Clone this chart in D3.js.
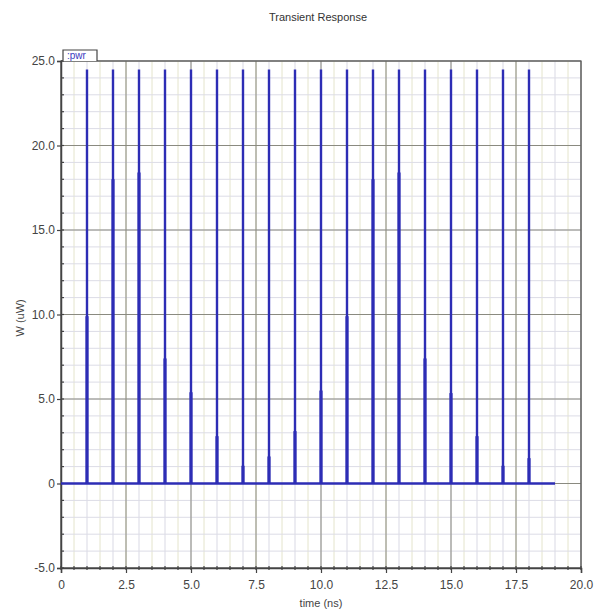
<!DOCTYPE html>
<html>
<head>
<meta charset="utf-8">
<script src="https://cdn.jsdelivr.net/npm/d3@7"></script>
<style>
  body { margin: 0; background: #fff; }
  svg { font-family: "Liberation Sans", Arial, sans-serif; }
</style>
</head>
<body>
<svg id="chart" width="596" height="616"></svg>
<script>
// pulse times (ns), peak and shoulder levels (uW)
const SPIKE_TIMES = [1, 2, 3, 4, 5, 6, 7, 8, 9, 10, 11, 12, 13, 14, 15, 16, 17, 18];
const PEAK_VALUES = [24.5, 24.5, 24.5, 24.5, 24.5, 24.5, 24.5, 24.5, 24.5, 24.5, 24.5, 24.5, 24.5, 24.5, 24.5, 24.5, 24.5, 24.5];
const SHOULDER_VALUES = [9.9, 18.0, 18.4, 7.4, 5.4, 2.8, 1.05, 1.6, 3.1, 5.5, 9.9, 18.0, 18.4, 7.4, 5.35, 2.8, 1.05, 1.5];
const TRACE_RANGE = [0, 19];

const X_TICKS = [0, 2.5, 5, 7.5, 10, 12.5, 15, 17.5, 20];
const Y_TICKS = [-5, 0, 5, 10, 15, 20, 25];

const MARGIN = { top: 61, right: 15, bottom: 48, left: 61 };
const TRACE_COLOR = "#2d2db5";

const svg = d3.select("#chart");
const FULL_WIDTH = +svg.attr("width");
const FULL_HEIGHT = +svg.attr("height");

const x = d3.scaleLinear().domain([0, 20]).range([MARGIN.left, FULL_WIDTH - MARGIN.right]);
const y = d3.scaleLinear().domain([-5, 25]).range([FULL_HEIGHT - MARGIN.bottom, MARGIN.top]);

const [x0, x1] = x.range();
const [y0, y1] = y.range(); // y0 bottom, y1 top

// minor grid
const grid = svg.append("g");
grid.selectAll(".vminor")
  .data(d3.range(0, 20.01, 0.5))
  .join("line")
  .attr("x1", (d) => x(d)).attr("x2", (d) => x(d))
  .attr("y1", y1).attr("y2", y0)
  .attr("stroke", (d, i) => (i % 2 ? "#e4e4cc" : "#d9d9e4"))
  .attr("stroke-width", 1);
grid.selectAll(".hminor")
  .data(d3.range(-5, 25.01, 1))
  .join("line")
  .attr("x1", x0).attr("x2", x1)
  .attr("y1", (d) => y(d)).attr("y2", (d) => y(d))
  .attr("stroke", "#dcdce6")
  .attr("stroke-width", 1);

// major grid
grid.selectAll(".vmajor")
  .data(X_TICKS)
  .join("line")
  .attr("x1", (d) => x(d)).attr("x2", (d) => x(d))
  .attr("y1", y1).attr("y2", y0)
  .attr("stroke", "#8a8a80")
  .attr("stroke-width", 1);
grid.selectAll(".hmajor")
  .data(Y_TICKS)
  .join("line")
  .attr("x1", x0).attr("x2", x1)
  .attr("y1", (d) => y(d)).attr("y2", (d) => y(d))
  .attr("stroke", "#8a8a80")
  .attr("stroke-width", 1);

// frame
svg.append("rect")
  .attr("x", x0).attr("y", y1)
  .attr("width", x1 - x0).attr("height", y0 - y1)
  .attr("fill", "none")
  .attr("stroke", "#5a5a5a")
  .attr("stroke-width", 1.2);

// axes
const fmt = (d) => (d === 0 ? "0" : d.toFixed(1));

const yAxis = svg.append("g")
  .attr("transform", "translate(" + x0 + ",0)")
  .call(d3.axisLeft(y).tickValues(Y_TICKS).tickFormat(fmt).tickSize(4).tickPadding(2));
const xAxis = svg.append("g")
  .attr("transform", "translate(0," + y0 + ")")
  .call(d3.axisBottom(x).tickValues(X_TICKS).tickFormat(fmt).tickSize(5).tickPadding(7));

[xAxis, yAxis].forEach((a) => {
  a.select(".domain").attr("stroke", "#444").attr("stroke-width", 1.5);
  a.selectAll(".tick line").attr("stroke", "#444").attr("stroke-width", 1.2);
  a.selectAll(".tick text").attr("fill", "#444").style("font-size", "12px");
});

// minor ticks
svg.append("g").selectAll("line")
  .data(d3.range(-5, 25.01, 1))
  .join("line")
  .attr("x1", x0).attr("x2", x0 + 3)
  .attr("y1", (d) => y(d)).attr("y2", (d) => y(d))
  .attr("stroke", "#444").attr("stroke-width", 1.2);
svg.append("g").selectAll("line")
  .data(d3.range(0, 20.01, 0.5))
  .join("line")
  .attr("x1", (d) => x(d)).attr("x2", (d) => x(d))
  .attr("y1", y0 - 2).attr("y2", y0 + 2)
  .attr("stroke", "#444").attr("stroke-width", 1.2);

// trace
const line = d3.line().x((d) => x(d[0])).y((d) => y(d[1]));
const trace = svg.append("g").attr("fill", "none").attr("stroke", TRACE_COLOR);

trace.append("path")
  .attr("d", line([[TRACE_RANGE[0], 0], [TRACE_RANGE[1], 0]]))
  .attr("stroke-width", 2.5);

trace.selectAll(".peak")
  .data(SPIKE_TIMES.map((t, i) => [[t, 0], [t, PEAK_VALUES[i]]]))
  .join("path")
  .attr("d", line)
  .attr("stroke-width", 2.4);

trace.selectAll(".shoulder")
  .data(SPIKE_TIMES.map((t, i) => [[t, 0], [t, SHOULDER_VALUES[i]]]))
  .join("path")
  .attr("d", line)
  .attr("stroke-width", 3.2);

// legend tab
const tab = svg.append("g");
tab.append("path")
  .attr("d", `M${x0 + 2},${y1} V${y1 - 11} H${x0 + 36} V${y1}`)
  .attr("fill", "#fff")
  .attr("stroke", "#444")
  .attr("stroke-width", 1.2);
tab.append("text")
  .attr("x", x0 + 6).attr("y", y1 - 2)
  .attr("fill", "#3a3ac0")
  .style("font-size", "10px")
  .text(":pwr");

// titles
svg.append("text")
  .attr("x", 318).attr("y", 21)
  .attr("text-anchor", "middle")
  .attr("fill", "#333")
  .style("font-size", "11px")
  .text("Transient Response");

svg.append("text")
  .attr("x", (x0 + x1) / 2).attr("y", 607)
  .attr("text-anchor", "middle")
  .attr("fill", "#444")
  .style("font-size", "11px")
  .text("time (ns)");

svg.append("text")
  .attr("transform", `translate(24,${y(9.8)}) rotate(-90)`)
  .attr("text-anchor", "middle")
  .attr("fill", "#444")
  .style("font-size", "11px")
  .text("W (uW)");
</script>
</body>
</html>
